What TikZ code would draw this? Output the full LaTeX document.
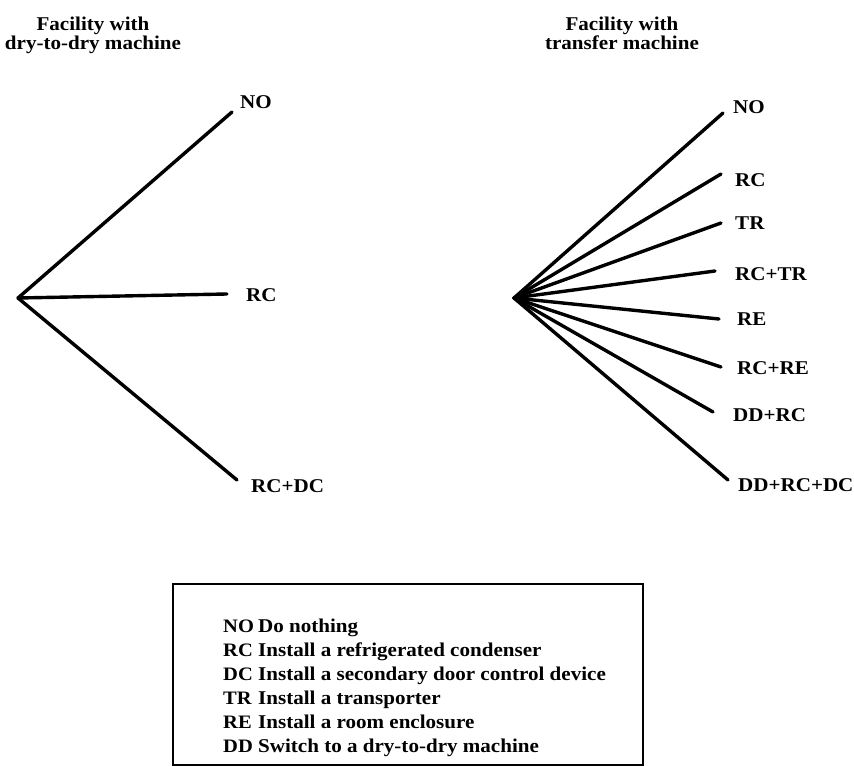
\documentclass[tikz,border=0pt]{standalone}
\usepackage{fontspec}
\setmainfont{Liberation Serif}[FakeStretch=1.08]
\usetikzlibrary{positioning}

\begin{document}
\begin{tikzpicture}[x=1pt, y=-1pt,
    ramo/.style={line width=3.4pt, line cap=round},
    rotulo/.style={anchor=west, inner sep=0pt, font=\bfseries\fontsize{19.5}{20}\selectfont},
    titulo/.style={anchor=north, align=center, inner sep=0pt, font=\bfseries\fontsize{19.5}{19}\selectfont},
    sigla/.style={anchor=base west, inner sep=0pt, font=\bfseries\fontsize{19}{19}\selectfont},
    texto/.style={anchor=base west, inner sep=0pt, font=\bfseries\fontsize{19.5}{20}\selectfont}]
  \useasboundingbox (0,0) rectangle (854,767);

  % maquina dry-to-dry
  \node[titulo] (tDry) at (93,17) {Facility with\\dry-to-dry machine};
  \coordinate (dRaiz) at (18,298);
  \coordinate (dNOfim) at (232,112);
  \coordinate (dRCfim) at (227,294);
  \coordinate (dRCDCfim) at (237,480);
  \node[rotulo] (dNO) at (240,102) {NO};
  \node[rotulo] (dRC) at (246,295) {RC};
  \node[rotulo] (dRCDC) at (251,486) {RC+DC};
  \draw[ramo] (dRaiz) -- (dNOfim);
  \draw[ramo] (dRaiz) -- (dRCfim);
  \draw[ramo] (dRaiz) -- (dRCDCfim);

  % maquina de transferencia
  \node[titulo] (tTransf) at (622,17) {Facility with\\transfer machine};
  \coordinate (tRaiz) at (514,298);
  \coordinate (tNOfim) at (723,113);
  \coordinate (tRCfim) at (721,174);
  \coordinate (tTRfim) at (721,223);
  \coordinate (tRCTRfim) at (715,271);
  \coordinate (tREfim) at (719,319);
  \coordinate (tRCREfim) at (721,367);
  \coordinate (tDDRCfim) at (713,412);
  \coordinate (tDDRCDCfim) at (728,480);
  \node[rotulo] (tNO) at (733,107) {NO};
  \node[rotulo] (tRC) at (735,180) {RC};
  \node[rotulo] (tTR) at (735,223) {TR};
  \node[rotulo] (tRCTR) at (735,274) {RC+TR};
  \node[rotulo] (tRE) at (737,319) {RE};
  \node[rotulo] (tRCRE) at (737,368) {RC+RE};
  \node[rotulo] (tDDRC) at (733,415) {DD+RC};
  \node[rotulo] (tDDRCDC) at (738,485) {DD+RC+DC};
  \draw[ramo] (tRaiz) -- (tNOfim);
  \draw[ramo] (tRaiz) -- (tRCfim);
  \draw[ramo] (tRaiz) -- (tTRfim);
  \draw[ramo] (tRaiz) -- (tRCTRfim);
  \draw[ramo] (tRaiz) -- (tREfim);
  \draw[ramo] (tRaiz) -- (tRCREfim);
  \draw[ramo] (tRaiz) -- (tDDRCfim);
  \draw[ramo] (tRaiz) -- (tDDRCDCfim);

  % legenda
  \draw[line width=1.6pt] (173,584) rectangle (643,765);
  \node[sigla] (lNO) at (223,632) {NO};
  \node[sigla] (lRC) at (223,656) {RC};
  \node[sigla] (lDC) at (223,680) {DC};
  \node[sigla] (lTR) at (223,704) {TR};
  \node[sigla] (lRE) at (223,728) {RE};
  \node[sigla] (lDD) at (223,752) {DD};
  \node[texto] (xNO) at (258,632) {Do nothing};
  \node[texto] (xRC) at (258,656) {Install a refrigerated condenser};
  \node[texto] (xDC) at (258,680) {Install a secondary door control device};
  \node[texto] (xTR) at (258,704) {Install a transporter};
  \node[texto] (xRE) at (258,728) {Install a room enclosure};
  \node[texto] (xDD) at (258,752) {Switch to a dry-to-dry machine};
\end{tikzpicture}
\end{document}
